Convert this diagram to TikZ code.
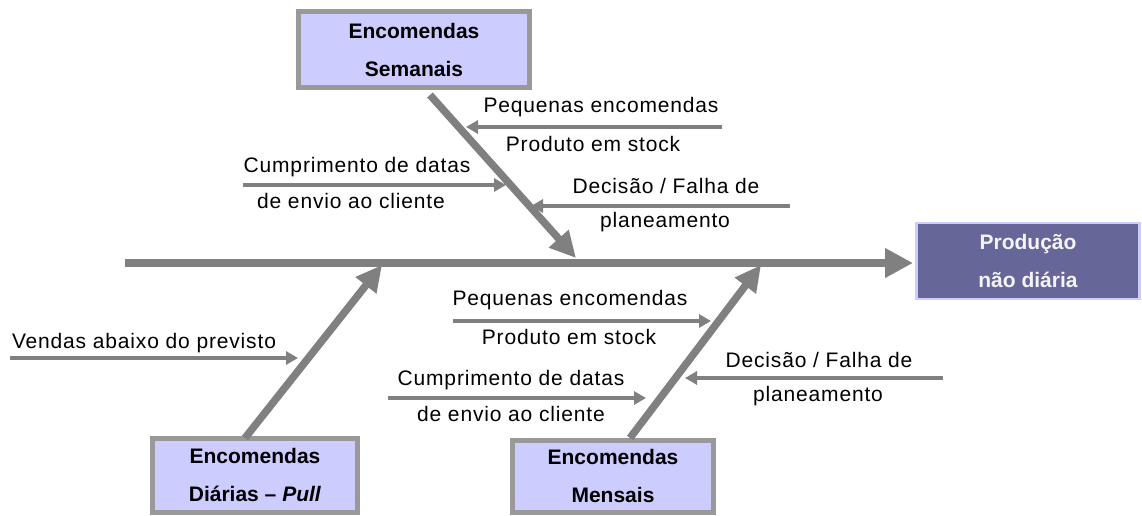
\documentclass[tikz,border=0pt]{standalone}
\usepackage{fontspec}
\setmainfont{Liberation Sans}
\newfontfamily\lblfont[LetterSpace=4]{Liberation Sans}
\usetikzlibrary{arrows.meta}
\definecolor{boneGray}{HTML}{808080}
\definecolor{boxBorder}{HTML}{999999}
\definecolor{boxFill}{HTML}{CCCCFF}
\definecolor{effFill}{HTML}{666699}
\definecolor{effText}{HTML}{F4F4F4}
\tikzset{
  spinebone/.style={draw=boneGray, line width=8pt, -{Triangle[length=28pt,width=28pt]}},
  ribbone/.style={draw=boneGray, line width=7.5pt, -{Triangle[length=26pt,width=25pt]}},
  twig/.style={draw=boneGray, line width=4.5pt, -{Triangle[length=12pt,width=13pt]}},
  lbl/.style={font=\lblfont\fontsize{21}{24}\selectfont, inner sep=0pt, text=black, anchor=center},
  causebox/.style={draw=boxBorder, line width=5pt, fill=boxFill, font=\fontsize{21}{38}\selectfont\bfseries, align=center, inner sep=0pt},
  effectbox/.style={draw=boxFill, line width=2.5pt, fill=effFill, text=effText, font=\fontsize{21}{38}\selectfont\bfseries, align=center, inner sep=0pt}
}
\begin{document}
\begin{tikzpicture}[x=1pt,y=-1pt]
\useasboundingbox[fill=white] (0,0) rectangle (1142,516);

% boxes
\node[causebox, minimum width=231, minimum height=76] (semanais) at (414,50) {Encomendas\\Semanais};
\node[causebox, minimum width=205, minimum height=74] (diarias) at (255,475) {Encomendas\\Diárias -- \textit{Pull}};
\node[causebox, minimum width=201, minimum height=72] (mensais) at (613,476) {Encomendas\\Mensais};
\node[effectbox, minimum width=223, minimum height=76] (efeito) at (1028,261) {Produção\\não diária};

% spine
\coordinate (spineStart) at (125,263);
\coordinate (spineEnd) at (913,263);
\draw[spinebone] (spineStart) -- (spineEnd);

% ribs
\coordinate (ribTopS) at (430,95);
\coordinate (ribTopE) at (576,258);
\draw[ribbone] (ribTopS) -- (ribTopE);
\coordinate (ribBLS) at (245,438);
\coordinate (ribBLE) at (382,265);
\draw[ribbone] (ribBLS) -- (ribBLE);
\coordinate (ribBMS) at (630,438);
\coordinate (ribBME) at (761,265);
\draw[ribbone] (ribBMS) -- (ribBME);

% twigs - top
\coordinate (t1s) at (722,127); \coordinate (t1e) at (466,127);
\draw[twig] (t1s) -- (t1e);
\node[lbl] (t1a) at (601,107) {Pequenas encomendas};
\node[lbl] (t1b) at (593,144) {Produto em stock};

\coordinate (t2s) at (243,185); \coordinate (t2e) at (506,185);
\draw[twig] (t2s) -- (t2e);
\node[lbl] (t2a) at (357,167) {Cumprimento de datas};
\node[lbl] (t2b) at (351,201) {de envio ao cliente};

\coordinate (t3s) at (790,206); \coordinate (t3e) at (531,206);
\draw[twig] (t3s) -- (t3e);
\node[lbl] (t3a) at (666,186) {Decisão / Falha de};
\node[lbl] (t3b) at (665,222) {planeamento};

% twigs - bottom
\coordinate (t4s) at (10,358); \coordinate (t4e) at (298,358);
\draw[twig] (t4s) -- (t4e);
\node[lbl] (t4a) at (144,343) {Vendas abaixo do previsto};

\coordinate (t5s) at (453,321); \coordinate (t5e) at (711,321);
\draw[twig] (t5s) -- (t5e);
\node[lbl] (t5a) at (570,300) {Pequenas encomendas};
\node[lbl] (t5b) at (569,337) {Produto em stock};

\coordinate (t6s) at (943,378); \coordinate (t6e) at (685,378);
\draw[twig] (t6s) -- (t6e);
\node[lbl] (t6a) at (819,360) {Decisão / Falha de};
\node[lbl] (t6b) at (818,396) {planeamento};

\coordinate (t7s) at (388,398); \coordinate (t7e) at (646,398);
\draw[twig] (t7s) -- (t7e);
\node[lbl] (t7a) at (511,380) {Cumprimento de datas};
\node[lbl] (t7b) at (511,414) {de envio ao cliente};
\end{tikzpicture}
\end{document}
